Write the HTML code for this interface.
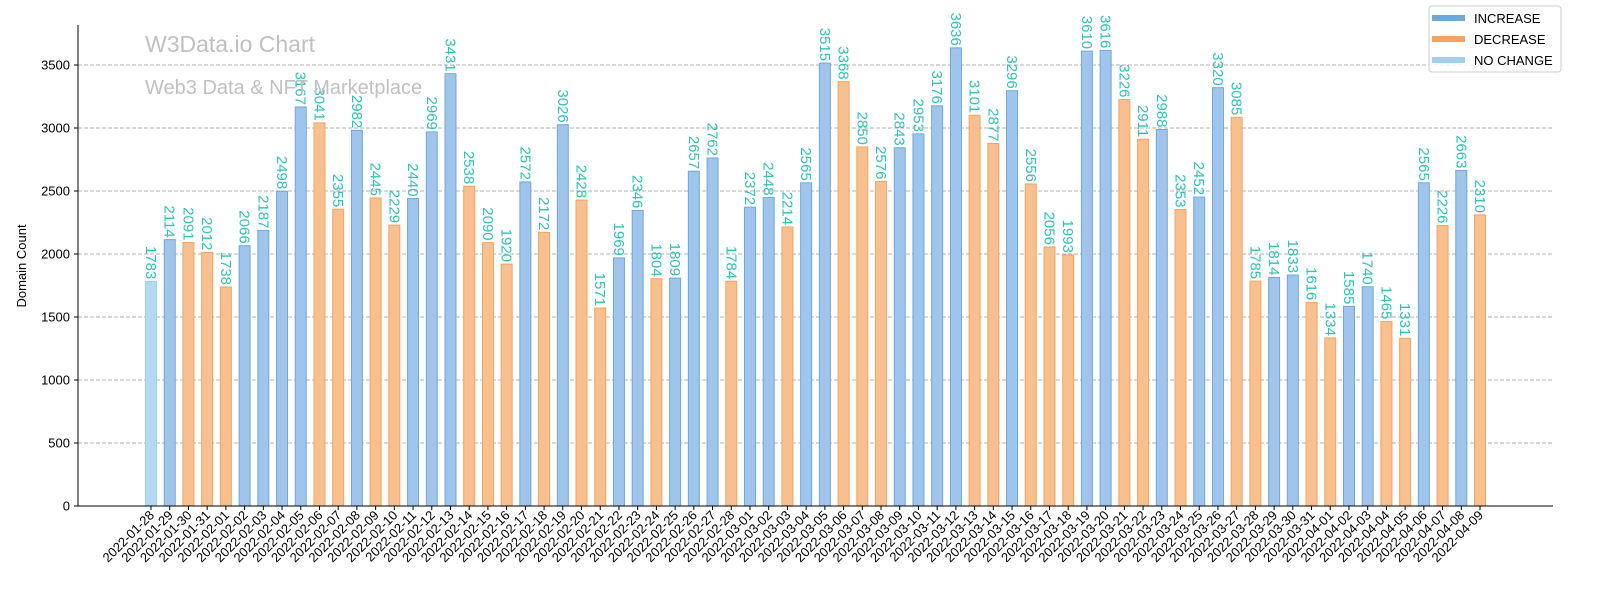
<!DOCTYPE html>
<html><head><meta charset="utf-8"><style>
body{margin:0;background:#fff;font-family:"Liberation Sans","DejaVu Sans",sans-serif}
</style></head><body>
<svg id="chart" width="1600" height="600" xmlns="http://www.w3.org/2000/svg">
<g id="grid"></g>
<g id="bars"></g>
<g id="labels"></g>
<g id="axes"></g>
<text x="145" y="52" font-size="23" fill="#c0c0c0">W3Data.io Chart</text>
<text x="145" y="94" font-size="20" fill="#c0c0c0">Web3 Data &amp; NFT Marketplace</text>
<text transform="translate(26,266) rotate(-90)" text-anchor="middle" font-size="13" fill="#000">Domain Count</text>
<g>
<rect x="1429" y="6" width="132" height="66" rx="3" fill="#fff" fill-opacity="0.85" stroke="#ccc"/>
<rect x="1432" y="15" width="33" height="6" fill="#6fa8dc"/>
<text x="1474" y="23" font-size="13">INCREASE</text>
<rect x="1432" y="36" width="33" height="6" fill="#f4a460"/>
<text x="1474" y="44" font-size="13">DECREASE</text>
<rect x="1432" y="57" width="33" height="6" fill="#9fcff5"/>
<text x="1474" y="65" font-size="13">NO CHANGE</text>
</g>
</svg>
<script>
const values=[1783,2114,2091,2012,1738,2066,2187,2498,3167,3041,2355,2982,2445,2229,2440,2969,3431,2538,2090,1920,2572,2172,3026,2428,1571,1969,2346,1804,1809,2657,2762,1784,2372,2448,2214,2565,3515,3368,2850,2576,2843,2953,3176,3636,3101,2877,3296,2556,2056,1993,3610,3616,3226,2911,2988,2353,2452,3320,3085,1785,1814,1833,1616,1334,1585,1740,1465,1331,2565,2226,2663,2310];
const startDate="2022-01-28";
const yTicks=[0,500,1000,1500,2000,2500,3000,3500];
const NS="http://www.w3.org/2000/svg";
const L=78,R=1553,Y0=506,PER=63/500;
const y=v=>Y0-v*PER;
const x=i=>151+i*(1480-151)/(values.length-1);
function el(t,a,p){const e=document.createElementNS(NS,t);for(const k in a)e.setAttribute(k,a[k]);p.appendChild(e);return e;}
const grid=document.getElementById('grid'),bars=document.getElementById('bars'),labs=document.getElementById('labels'),axes=document.getElementById('axes');
function dateStr(i){const d=new Date(startDate+"T00:00:00Z");d.setUTCDate(d.getUTCDate()+i);return d.toISOString().slice(0,10);}
yTicks.forEach(t=>{
 if(t>0){const g=el('line',{x1:L,x2:R,y1:y(t),y2:y(t),stroke:'#b0b0b0','stroke-dasharray':'4,2','stroke-width':1},grid);
 
 }
 el('line',{x1:L-4,x2:L,y1:y(t),y2:y(t),stroke:'#000'},axes);
 const tx=el('text',{x:L-8,y:y(t)+4.5,'text-anchor':'end','font-size':13},axes);tx.textContent=t;
 
 
});
values.forEach((v,i)=>{
 let fill='#b3d9f5',stroke='#9fcff5';
 if(i>0&&v>values[i-1]){fill='#9fc5ec';stroke='#6fa8dc';}
 else if(i>0&&v<values[i-1]){fill='#f8c08f';stroke='#f4a460';}
 const b=el('rect',{x:x(i)-5.5,y:y(v),width:11,height:Y0-y(v),fill:fill,stroke:stroke,'stroke-width':1},bars);
 
 
 const t=el('text',{transform:`translate(${x(i)-5},${y(v)-2}) rotate(90)`,'text-anchor':'end','font-size':15,fill:'#2ec4b6'},labs);
 t.textContent=v;
 
 
 el('line',{x1:x(i),x2:x(i),y1:Y0,y2:Y0+4,stroke:'#000'},axes);
 const xl=el('text',{transform:`translate(${x(i)+4},${Y0+10}) rotate(-45)`,'text-anchor':'end','font-size':13},axes);
 xl.textContent=dateStr(i);
 
 
});
el('line',{x1:L,x2:L,y1:25,y2:Y0,stroke:'#000'},axes);
el('line',{x1:L,x2:R,y1:Y0,y2:Y0,stroke:'#000'},axes);
</script>
</body></html>
